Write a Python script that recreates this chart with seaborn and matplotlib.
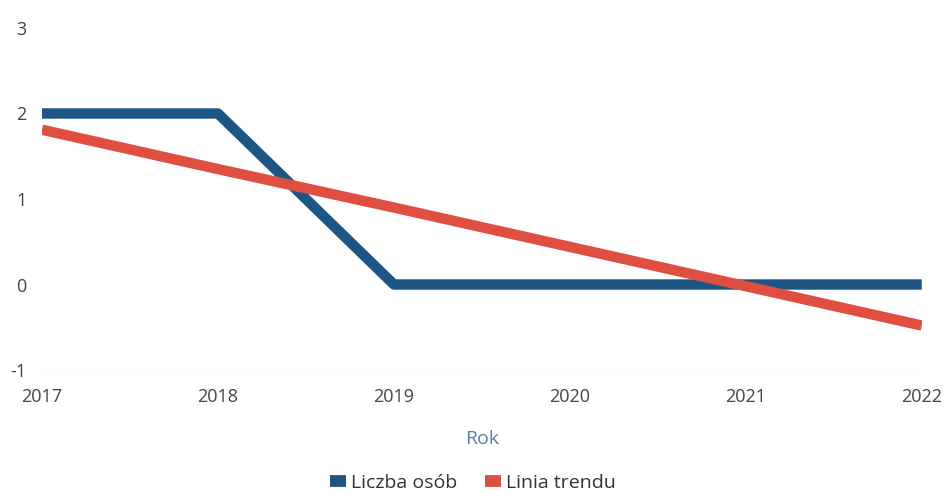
import pandas as pd
import matplotlib
matplotlib.use("Agg")
import matplotlib.pyplot as plt
import seaborn as sns


lata = [2017, 2018, 2019, 2020, 2021, 2022]
liczba_osob = [2, 2, 0, 0, 0, 0]
linia_trendu = [1.81, 1.35, 0.90, 0.44, -0.02, -0.48]
y_ticks = [-1, 0, 1, 2, 3]

df = pd.DataFrame({
    "Rok": lata * 2,
    "Wartosc": liczba_osob + linia_trendu,
    "Seria": ["Liczba osób"] * len(lata) + ["Linia trendu"] * len(lata),
})

sns.set_theme(style="white")
plt.rcParams["font.family"] = ["Open Sans", "DejaVu Sans"]

fig = plt.figure(figsize=(9.46, 4.95), dpi=100)
ax = fig.add_axes([0.0444, 0.2525, 0.93, 0.691])

kolory = {"Liczba osób": "#1d5585", "Linia trendu": "#de4f42"}
sns.lineplot(data=df, x="Rok", y="Wartosc", hue="Seria", palette=kolory,
             linewidth=7.5, ax=ax, legend=True)
# trend line drawn over the blue one, as in the picture
ax.lines[1].set_zorder(3)
ax.lines[0].set_zorder(2)
ax.lines[0].set_solid_capstyle("butt")
ax.lines[1].set_solid_capstyle("butt")

ax.set_xlim(lata[0], lata[-1])
ax.set_ylim(-1, 3)
ax.set_xticks(lata)
ax.set_yticks(y_ticks)
ax.set_xticklabels([str(r) for r in lata], fontsize=13, color="#444444")
ax.set_yticklabels([str(v) for v in y_ticks], fontsize=13, color="#444444")
ax.tick_params(axis="y", length=0, pad=11)
ax.tick_params(axis="x", length=0, pad=13)
ax.axhline(-1, color="#f0f0f0", linewidth=1, zorder=0)
sns.despine(ax=ax, left=True, bottom=True)

ax.set_xlabel("Rok", fontsize=14, color="#5a7ea6", labelpad=17)
ax.set_ylabel("")

h, l = ax.get_legend_handles_labels()
for uchwyt in h:
    uchwyt.set_linewidth(8.5)
    uchwyt.set_solid_capstyle("butt")
ax.legend(h, l, loc="center", bbox_to_anchor=(0.49, -0.33), ncol=2, frameon=False,
          fontsize=14, handlelength=0.8, handletextpad=0.3, columnspacing=1.4,
          labelcolor="#333333")

fig.savefig("out.png", dpi=100)
